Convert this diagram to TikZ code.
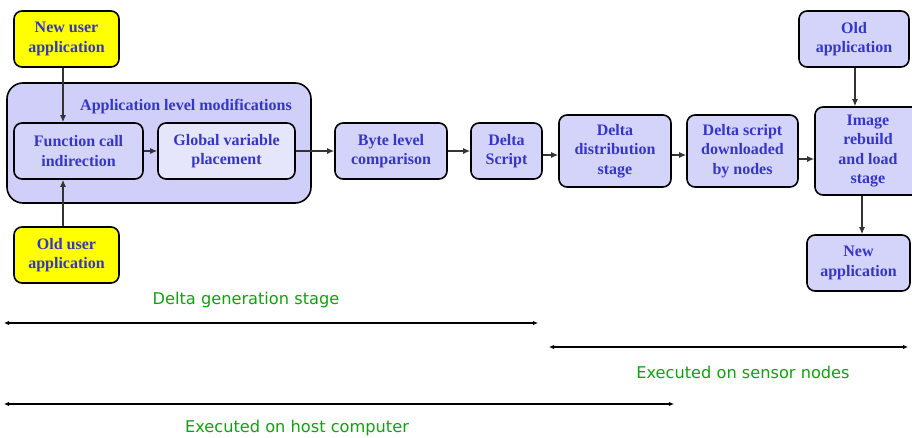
\documentclass[tikz,border=0pt]{standalone}
\usepackage{fontspec}
\setmainfont{Liberation Serif}
\newfontfamily\labelfont{DejaVu Sans}
\usetikzlibrary{arrows.meta}
\definecolor{boxfill}{HTML}{D4D4FA}
\definecolor{outerfill}{HTML}{CFCFFA}
\definecolor{userfill}{HTML}{FFFF00}
\definecolor{boxtext}{HTML}{3535C8}
\definecolor{stagegreen}{HTML}{10A010}
\tikzset{
  stagebox/.style={draw=black, line width=1.6pt, rounded corners=8pt, fill=boxfill,
    text=boxtext, font=\fontsize{16}{19.5}\selectfont\bfseries, align=center,
    inner sep=0pt},
  userbox/.style={stagebox, fill=userfill},
  flow/.style={draw=black!80, line width=1.2pt, -{Latex[length=7pt,width=6pt]}},
  span/.style={draw=black, line width=1.1pt, {Latex[length=5pt,width=4.5pt]}-{Latex[length=5pt,width=4.5pt]}},
  spanlabel/.style={text=stagegreen, font=\labelfont\fontsize{16.2}{19}\selectfont, inner sep=0pt},
}
\begin{document}
\begin{tikzpicture}[x=1pt,y=-1pt]
\useasboundingbox (0,0) rectangle (912,438);

% Enclosing group for the application level modifications
\node[draw=black, line width=1.6pt, rounded corners=16pt, fill=outerfill,
      minimum width=304pt, minimum height=120pt] (appmod) at (159,143) {};
\node[text=boxtext, font=\fontsize{16}{19}\selectfont\bfseries] (appmodtitle) at (186,107) {Application level modifications};

% Source applications
\node[userbox, minimum width=105pt, minimum height=56pt] (newuser) at (66.5,39) {New user\\application};
\node[userbox, minimum width=105pt, minimum height=56pt] (olduser) at (66.5,255) {Old user\\application};

% Delta generation pipeline
\node[stagebox, minimum width=129pt, minimum height=56pt] (fci) at (78.5,151) {Function call\\indirection};
\node[stagebox, minimum width=137pt, minimum height=56pt, fill=boxfill!60!white] (gvp) at (226.5,151) {Global variable\\placement};
\node[stagebox, minimum width=112pt, minimum height=56pt] (byte) at (391,151) {Byte level\\comparison};
\node[stagebox, minimum width=71pt, minimum height=56pt] (script) at (506.5,151) {Delta\\Script};
\node[stagebox, minimum width=112pt, minimum height=72pt] (dist) at (615,151) {Delta\\distribution\\stage};
\node[stagebox, minimum width=111pt, minimum height=72pt] (down) at (742.5,151) {Delta script\\downloaded\\by nodes};
\node[stagebox, minimum width=106pt, minimum height=88pt] (rebuild) at (868,151) {Image\\rebuild\\and load\\stage};

% Applications on the node
\node[stagebox, minimum width=110pt, minimum height=56pt] (oldapp) at (854,39) {Old\\application};
\node[stagebox, minimum width=103pt, minimum height=56pt] (newapp) at (858.5,263) {New\\application};

% Connectors
\draw[flow] (newuser.south -| fci.north) ++(-15.5,0) coordinate (nu) -- (nu |- fci.north);
\draw[flow] (olduser.north) ++(-3.5,0) coordinate (ou) -- (ou |- fci.south);
\draw[flow] (fci) -- (gvp);
\draw[flow] (gvp) -- (byte);
\draw[flow] (byte) -- (script);
\draw[flow] (script.east |- 0,155) coordinate (s1) -- (s1 -| dist.west);
\draw[flow] (dist.east |- 0,155) coordinate (s2) -- (s2 -| down.west);
\draw[flow] (down.east |- 0,159) coordinate (s3) -- (s3 -| rebuild.west);
\draw[flow] (oldapp.south) ++(1,0) coordinate (oa) -- (oa |- rebuild.north);
\draw[flow] (rebuild.south) ++(-6,0) coordinate (rb) -- (rb |- newapp.north);

% Extents of the stages
\coordinate (g1) at (4,323);
\coordinate (g2) at (538,323);
\draw[span] (g1) -- (g2);
\node[spanlabel] (genlabel) at (246,300) {Delta generation stage};

\coordinate (n1) at (549,347);
\coordinate (n2) at (908,347);
\draw[span] (n1) -- (n2);
\node[spanlabel] (nodelabel) at (743,372) {Executed on sensor nodes};

\coordinate (h1) at (4,404);
\coordinate (h2) at (674,404);
\draw[span] (h1) -- (h2);
\node[spanlabel] (hostlabel) at (297,428) {Executed on host computer};
\end{tikzpicture}
\end{document}
